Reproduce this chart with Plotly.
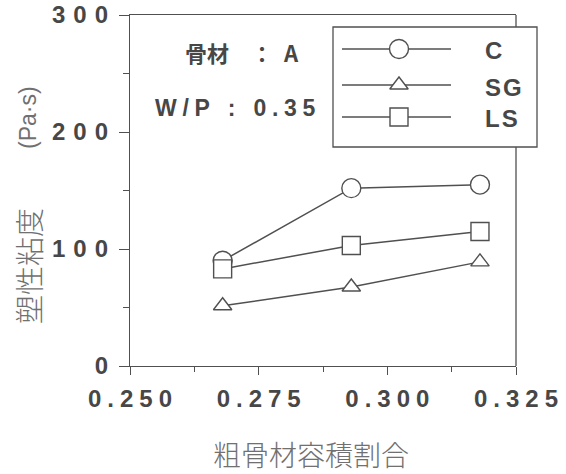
import plotly.graph_objects as go

# ---- data ----
x_ratio = [0.268, 0.293, 0.318]
c_vals = [90, 152, 155]
sg_vals = [51.5, 67.5, 89]
ls_vals = [83, 103, 115]
series_names = ["C", "SG", "LS"]
x_tickvals = [0.250, 0.275, 0.300, 0.325]
x_ticklabels = ["0.250", "0.275", "0.300", "0.325"]
y_tickvals = [0, 100, 200, 300]
y_ticklabels = ["0", "100", "200", "300"]
note_material = "骨材\u2003：\u2002A"
note_wp = "W/P : 0.35"
x_title = "粗骨材容積割合"
y_title_main = "塑性粘度"
y_title_unit = "(Pa·s)"

# ---- style ----
W, H = 566, 474
L, R, T, B = 130, 50, 15, 108
PW, PH = W - L - R, H - T - B
INK = "#474747"
LINE = "#505050"
TITLE = "#707070"
LAT = "Liberation Sans, Arial, sans-serif"
CJK = "Noto Sans CJK JP, sans-serif"


def px(x):
    return (x - L) / PW


def py(y):
    return (H - B - y) / PH


def spaced(s, sp="\u2005"):
    return sp.join(list(s))


symbols = {"C": ("circle", 19), "SG": ("triangle-up", 16), "LS": ("square", 18)}
vals = {"C": c_vals, "SG": sg_vals, "LS": ls_vals}

fig = go.Figure()
for name in series_names:
    sym, sz = symbols[name]
    fig.add_trace(go.Scatter(
        x=x_ratio, y=vals[name], mode="lines+markers", name=name,
        line=dict(color=LINE, width=1.5),
        marker=dict(symbol=sym, size=sz, color="white", line=dict(color=LINE, width=1.4)),
        showlegend=False, cliponaxis=False,
    ))

# ---- hand-drawn legend (layout positions) ----
leg_rows_y = [py(49), py(85), py(117)]
leg_text_y = [py(51), py(87), py(118)]
shapes = [
    dict(type="line", xref="paper", yref="paper", x0=1, x1=1, y0=0, y1=1,
         line=dict(color=LINE, width=1.3), layer="below"),
    dict(type="rect", xref="paper", yref="paper", x0=px(333), x1=px(537), y0=py(147), y1=py(27),
         line=dict(color=LINE, width=1.3), fillcolor="white", layer="below"),
]
for ry in leg_rows_y:
    shapes.append(dict(type="line", xref="paper", yref="paper", x0=px(342), x1=px(451), y0=ry, y1=ry,
                       line=dict(color=LINE, width=1.5), layer="below"))

for name, ry in zip(series_names, leg_rows_y):
    sym, sz = symbols[name]
    fig.add_trace(go.Scatter(
        x=[px(399)], y=[ry], xaxis="x2", yaxis="y2", mode="markers",
        marker=dict(symbol=sym, size=sz, color="white", line=dict(color=LINE, width=1.4)),
        showlegend=False, hoverinfo="skip", cliponaxis=False,
    ))

annotations = []
for name, ty in zip(series_names, leg_text_y):
    annotations.append(dict(text=spaced(name, "\u200a"), xref="paper", yref="paper", x=px(483), y=ty,
                            xanchor="left", yanchor="middle", showarrow=False,
                            font=dict(family=LAT, size=24, color=INK, weight="bold")))

annotations.append(dict(text=note_material, xref="paper", yref="paper", x=px(242), y=py(52),
                        xanchor="center", yanchor="middle", showarrow=False,
                        font=dict(family=CJK, size=22, color=INK, weight="bold")))
annotations.append(dict(text=spaced(note_wp, "\u2005"), xref="paper", yref="paper", x=px(235), y=py(108),
                        xanchor="center", yanchor="middle", showarrow=False,
                        font=dict(family=LAT, size=23, color=INK, weight="bold")))
annotations.append(dict(text=x_title, xref="paper", yref="paper", x=px(311), y=py(454),
                        xanchor="center", yanchor="middle", showarrow=False,
                        font=dict(family=CJK, size=28, color=TITLE, weight=300)))
annotations.append(dict(text=y_title_main, xref="paper", yref="paper", x=px(28), y=py(266),
                        xanchor="center", yanchor="middle", showarrow=False, textangle=-90,
                        font=dict(family=CJK, size=29, color=TITLE, weight=300)))
annotations.append(dict(text=y_title_unit, xref="paper", yref="paper", x=px(28), y=py(118),
                        xanchor="center", yanchor="middle", showarrow=False, textangle=-90,
                        font=dict(family=LAT, size=23, color=TITLE)))

fig.update_layout(
    width=W, height=H,
    margin=dict(l=L, r=R, t=T, b=B, pad=0),
    paper_bgcolor="white", plot_bgcolor="white",
    showlegend=False,
    shapes=shapes, annotations=annotations,
    xaxis=dict(range=[0.25, 0.325], tickvals=x_tickvals,
               ticktext=[spaced(t, "\u2005") for t in x_ticklabels],
               ticks="outside", ticklen=8, tickwidth=1.3, tickcolor=LINE,
               showline=True, linecolor=LINE, linewidth=1.3, mirror=True,
               showgrid=False, zeroline=False, automargin=False,
               minor=dict(dtick=0.0125, ticks="outside", ticklen=5, tickwidth=1.3, tickcolor=LINE),
               tickfont=dict(family=LAT, size=24, color=INK, weight="bold"),
               ticklabelstandoff=3),
    yaxis=dict(range=[0, 300], tickvals=y_tickvals,
               ticktext=[spaced(t, "\u2004") for t in y_ticklabels],
               ticks="outside", ticklen=10, tickwidth=1.3, tickcolor=LINE,
               showline=True, linecolor=LINE, linewidth=1.3, mirror=False,
               showgrid=False, zeroline=False, automargin=False,
               minor=dict(dtick=50, ticks="outside", ticklen=6, tickwidth=1.3, tickcolor=LINE),
               tickfont=dict(family=LAT, size=24, color=INK, weight="bold"),
               ticklabelstandoff=6),
    xaxis2=dict(overlaying="x", range=[0, 1], visible=False),
    yaxis2=dict(overlaying="y", range=[0, 1], visible=False),
)

fig.write_html("out.html", config={"displayModeBar": False},
               post_script="document.body.style.margin='0';")
